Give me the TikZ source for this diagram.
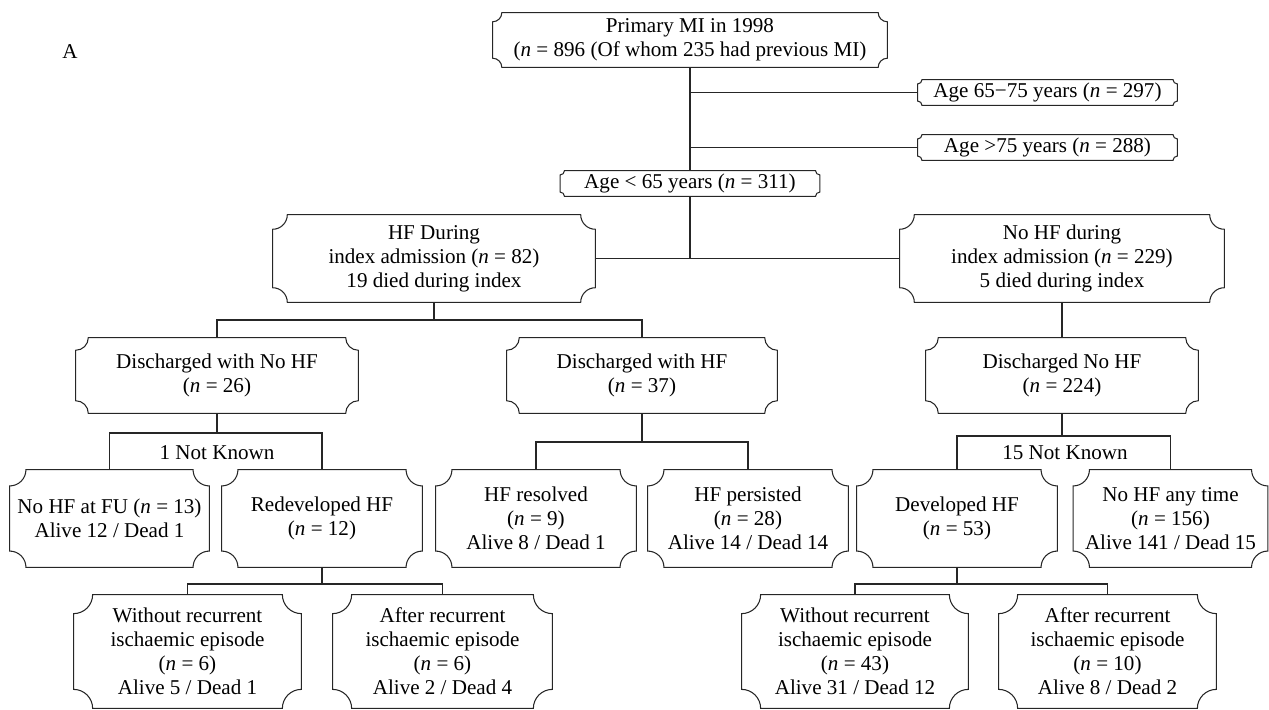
\documentclass[tikz,border=0pt]{standalone}
\usepackage{fontspec}
\setmainfont{Liberation Serif}
\usepackage{tikz}
\usetikzlibrary{calc}
\tikzstyle{conn} = [draw=black!85, line width=0.6pt]
\tikzstyle{plaque} = [rectangle, inner sep=0pt, align=center, font=\fontsize{12}{13.6}\selectfont,
  append after command={\pgfextra{\draw[conn] let \p1=(\tikzlastnode.north west), \p2=(\tikzlastnode.south east),
    \n1={0.1667*min(\x2-\x1,\y1-\y2)} in
    (\x1+\n1,\y1) -- (\x2-\n1,\y1) arc[start angle=180, end angle=270, radius=\n1]
    -- (\x2,\y2+\n1) arc[start angle=90, end angle=180, radius=\n1]
    -- (\x1+\n1,\y2) arc[start angle=0, end angle=90, radius=\n1]
    -- (\x1,\y1-\n1) arc[start angle=270, end angle=360, radius=\n1] -- cycle;}}]
\tikzstyle{note} = [inner sep=0pt, font=\fontsize{12}{13.6}\selectfont]

\begin{document}
\begin{tikzpicture}[x=0.02cm, y=-0.02cm]
\useasboundingbox (0,0) rectangle (1269,710);
\node (lbl) [note] at (70,52) {A};
% top of the tree
\node (mi) [plaque, minimum width=7.88cm, minimum height=1.08cm] at (690,40) {Primary MI in 1998\\(\textit{n} = 896 (Of whom 235 had previous MI)};
\node (age1) [plaque, minimum width=5.18cm, minimum height=0.5cm] at (1047.5,92.5) {Age 65−75 years (\textit{n} = 297)};
\node (age2) [plaque, minimum width=5.18cm, minimum height=0.5cm] at (1047.5,147.5) {Age >75 years (\textit{n} = 288)};
\node (age3) [plaque, minimum width=5.18cm, minimum height=0.5cm] at (690,183.5) {Age < 65 years (\textit{n} = 311)};
\node (hfd) [plaque, minimum width=6.44cm, minimum height=1.74cm] at (434,258.5) {HF During\\index admission (\textit{n} = 82)\\19 died during index};
\node (nohfd) [plaque, minimum width=6.48cm, minimum height=1.74cm] at (1062,258.5) {No HF during\\index admission (\textit{n} = 229)\\5 died during index};
% discharge
\node (dnohf) [plaque, minimum width=5.64cm, minimum height=1.5cm] at (217,375.5) {Discharged with No HF\\(\textit{n} = 26)};
\node (dhf) [plaque, minimum width=5.4cm, minimum height=1.5cm] at (642,375.5) {Discharged with HF\\(\textit{n} = 37)};
\node (dno) [plaque, minimum width=5.44cm, minimum height=1.5cm] at (1062,375.5) {Discharged No HF\\(\textit{n} = 224)};
% follow up
\node (fu) [plaque, minimum width=3.98cm, minimum height=1.94cm] at (109.5,518.5) {No HF at FU (\textit{n} = 13)\\Alive 12 / Dead 1};
\node (redev) [plaque, minimum width=4cm, minimum height=1.94cm] at (322,518.5) {Redeveloped HF\\(\textit{n} = 12)};
\node (resolved) [plaque, minimum width=4cm, minimum height=1.94cm] at (536,518.5) {HF resolved\\(\textit{n} = 9)\\Alive 8 / Dead 1};
\node (persisted) [plaque, minimum width=4cm, minimum height=1.94cm] at (748,518.5) {HF persisted\\(\textit{n} = 28)\\Alive 14 / Dead 14};
\node (devel) [plaque, minimum width=4cm, minimum height=1.94cm] at (957,518.5) {Developed HF\\(\textit{n} = 53)};
\node (anytime) [plaque, minimum width=3.88cm, minimum height=1.94cm] at (1170.5,518.5) {No HF any time\\(\textit{n} = 156)\\Alive 141 / Dead 15};
% recurrent episodes
\node (wo1) [plaque, minimum width=4.54cm, minimum height=2.26cm] at (187.5,651.5) {Without recurrent\\ischaemic episode\\(\textit{n} = 6)\\Alive 5 / Dead 1};
\node (af1) [plaque, minimum width=4.38cm, minimum height=2.26cm] at (442.5,651.5) {After recurrent\\ischaemic episode\\(\textit{n} = 6)\\Alive 2 / Dead 4};
\node (wo2) [plaque, minimum width=4.52cm, minimum height=2.26cm] at (855,651.5) {Without recurrent\\ischaemic episode\\(\textit{n} = 43)\\Alive 31 / Dead 12};
\node (af2) [plaque, minimum width=4.34cm, minimum height=2.26cm] at (1107.5,651.5) {After recurrent\\ischaemic episode\\(\textit{n} = 10)\\Alive 8 / Dead 2};
\node (nk1) [note] at (217,453) {1 Not Known};
\node (nk2) [note] at (1065,453) {15 Not Known};
% junctions
\coordinate (j1) at (434,320);
\coordinate (j3) at (217,433);
\coordinate (j4) at (642,442);
\coordinate (j5) at (1062,436);
\coordinate (j6) at (322,584);
\coordinate (j7) at (957,584);
% lines
\draw [conn] (mi.south) -- (age3.north);
\draw [conn] (age1.west) -- (age1.west -| mi.south);
\draw [conn] (age2.west) -- (age2.west -| mi.south);
\draw [conn] (hfd.east) -- (nohfd.west);
\draw [conn] (age3.south) -- (age3.south |- hfd.east);
\draw [conn] (hfd.south) -- (j1);
\draw [conn] (dnohf.north) |- (j1) -| (dhf.north);
\draw [conn] (nohfd.south) -- (dno.north);
\draw [conn] (dnohf.south) -- (j3);
\draw [conn] (fu.north) |- (j3) -| (redev.north);
\draw [conn] (dhf.south) -- (j4);
\draw [conn] (resolved.north) |- (j4) -| (persisted.north);
\draw [conn] (dno.south) -- (j5);
\draw [conn] (devel.north) |- (j5) -| (anytime.north);
\draw [conn] (redev.south) -- (j6);
\draw [conn] (wo1.north) |- (j6) -| (af1.north);
\draw [conn] (devel.south) -- (j7);
\draw [conn] (wo2.north) |- (j7) -| (af2.north);
\end{tikzpicture}
\end{document}
